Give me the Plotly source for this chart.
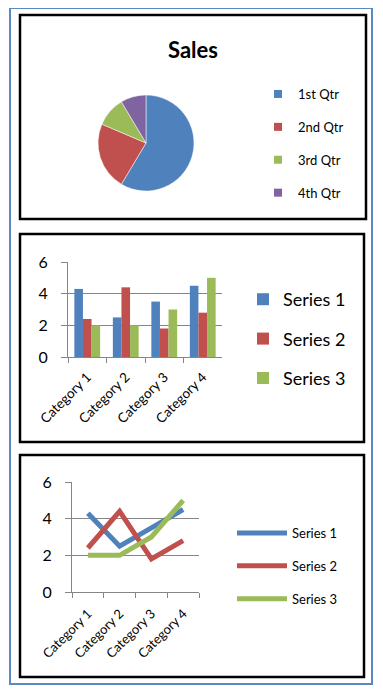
import plotly.graph_objects as go

# page offset (browser body margin) and figure size
OX, OY = 8, 8
W, H = 383 - OX, 695 - OY

# ---- data ----
quarters = ["1st Qtr", "2nd Qtr", "3rd Qtr", "4th Qtr"]
sales = [8.2, 3.2, 1.4, 1.2]
categories = ["Category 1", "Category 2", "Category 3", "Category 4"]
series_names = ["Series 1", "Series 2", "Series 3"]
series1 = [4.3, 2.5, 3.5, 4.5]
series2 = [2.4, 4.4, 1.8, 2.8]
series3 = [2, 2, 3, 5]
y_ticks = [0, 2, 4, 6]

colors = ["#4F81BD", "#C0504D", "#9BBB59", "#8064A2"]
FONT = "Lato"
GRID = "#868686"


def px(x):
    return (x - OX) / W


def py(y):
    return 1 - (y - OY) / H


fig = go.Figure()

# Pie
fig.add_trace(go.Pie(
    labels=quarters, values=sales, sort=False, direction="clockwise", rotation=0,
    marker=dict(colors=colors, line=dict(color="white", width=0.5)),
    textinfo="none", showlegend=False,
    domain=dict(x=[px(98), px(194)], y=[py(191), py(95)]),
))
# Pie legend entries
for q, c in zip(quarters, colors):
    fig.add_trace(go.Scatter(
        x=[None], y=[None], mode="markers", name=q,
        marker=dict(symbol="square", size=8, color=c),
        legend="legend", legendgroup="p" + q, xaxis="x2", yaxis="y2",
        hoverinfo="skip",
    ))

series_vals = [series1, series2, series3]
# Bars
for name, vals, c in zip(series_names, series_vals, colors):
    fig.add_trace(go.Bar(
        x=categories, y=vals, name=name, marker=dict(color=c, line_width=0),
        legend="legend2", legendgroup="b" + name, xaxis="x", yaxis="y",
    ))
# Lines
for name, vals, c in zip(series_names, series_vals, colors):
    fig.add_trace(go.Scatter(
        x=categories, y=vals, name=name, mode="lines",
        line=dict(color=c, width=5),
        legend="legend3", legendgroup="l" + name, xaxis="x2", yaxis="y2",
    ))

xcommon = dict(type="category", tickson="boundaries", ticks="outside", ticklen=5,
               tickcolor=GRID, showline=True, linecolor=GRID, linewidth=1,
               tickangle=-45, showgrid=False, range=[-0.5, len(categories) - 0.5],
               zeroline=False, automargin=False)
ycommon = dict(range=[0, 6], tickvals=y_ticks, showgrid=True, gridcolor=GRID, gridwidth=1,
               showline=True, linecolor=GRID, ticks="outside", ticklen=6, tickcolor=GRID,
               zeroline=False, ticklabelstandoff=10, automargin=False,
               tickfont=dict(size=16, color="black"))

fig.update_layout(
    template="none",
    width=W, height=H, margin=dict(l=0, r=0, t=0, b=0, pad=0, autoexpand=False),
    paper_bgcolor="white", plot_bgcolor="white",
    font=dict(family=FONT, color="black"),
    title=dict(text="<b>Sales</b>", x=px(193), y=py(50), xanchor="center", yanchor="middle",
               font=dict(size=22, family=FONT, color="black")),
    barmode="group", bargap=0.33, bargroupgap=0,
    xaxis=dict(domain=[px(68), px(222)], anchor="y", tickfont=dict(size=13.5, color="black"),
               ticklabelstandoff=6, **xcommon),
    yaxis=dict(domain=[py(357), py(262)], anchor="x", **ycommon),
    xaxis2=dict(domain=[px(72), px(199)], anchor="y2", tickfont=dict(size=13, color="black"),
                ticklabelstandoff=8, **xcommon),
    yaxis2=dict(domain=[py(592), py(482)], anchor="x2", **ycommon),
    legend=dict(x=px(258), y=py(79), xanchor="left", yanchor="top", traceorder="grouped",
                tracegroupgap=13, font=dict(size=13), bgcolor="rgba(0,0,0,0)", borderwidth=0),
    legend2=dict(x=px(243), y=py(281), xanchor="left", yanchor="top", traceorder="grouped",
                 tracegroupgap=13, font=dict(size=18), bgcolor="rgba(0,0,0,0)", borderwidth=0),
    legend3=dict(x=px(232), y=py(518), xanchor="left", yanchor="top", traceorder="grouped",
                 tracegroupgap=13, font=dict(size=13), bgcolor="rgba(0,0,0,0)",
                 itemwidth=50, borderwidth=0),
    showlegend=True,
    shapes=[
        dict(type="rect", xref="paper", yref="paper", x0=px(10), x1=px(372), y0=py(684), y1=py(8),
             line=dict(color="#5B87C5", width=2)),
        dict(type="rect", xref="paper", yref="paper", x0=px(20), x1=px(366), y0=py(219), y1=py(15),
             line=dict(color="black", width=2.5)),
        dict(type="rect", xref="paper", yref="paper", x0=px(20), x1=px(364), y0=py(442), y1=py(234),
             line=dict(color="black", width=2.5)),
        dict(type="rect", xref="paper", yref="paper", x0=px(20), x1=px(364), y0=py(677), y1=py(455),
             line=dict(color="black", width=2.5)),
    ],
)

fig.write_html("out.html")
